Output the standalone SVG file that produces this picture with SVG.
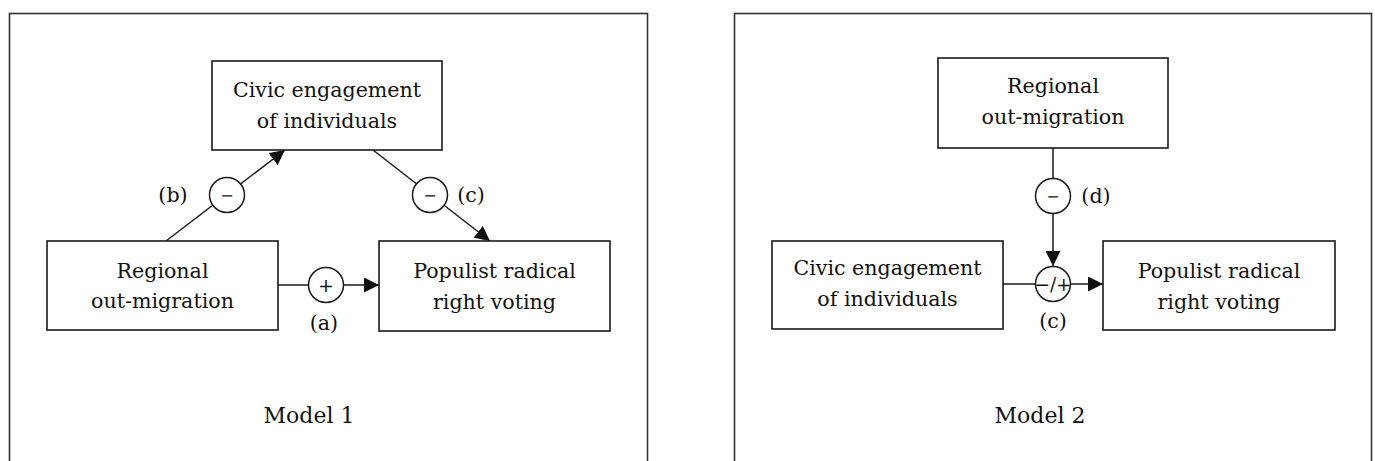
<svg xmlns="http://www.w3.org/2000/svg" width="1375" height="461" viewBox="0 0 1375 461">
<style>
.frame{fill:none;stroke:#333;stroke-width:1.6}
.box{fill:#fff;stroke:#1a1a1a;stroke-width:1.6}
.t{font-family:"DejaVu Serif","Liberation Serif",serif;font-size:20.6px;fill:#111;text-anchor:middle}
.title{font-size:22px}
.sign{font-family:"DejaVu Serif","Liberation Serif",serif;font-size:16px;fill:#111;text-anchor:middle}
.plus{font-size:19px}
.mix{font-size:18.5px}
.conn{fill:none;stroke:#1a1a1a;stroke-width:1.5}
.node{fill:#fff;stroke:#1a1a1a;stroke-width:1.5}
</style>
<defs>
<marker id="arr" markerUnits="userSpaceOnUse" markerWidth="16" markerHeight="15" refX="15" refY="7.5" orient="auto">
<path d="M0,0 L15,7.5 L0,15 Z" fill="#111"/>
</marker>
</defs>
<rect width="1375" height="461" fill="#fff"/>
<g id="frames">
<rect class="frame" x="9.5" y="13.5" width="638" height="470"/>
<rect class="frame" x="734.5" y="13.5" width="637" height="470"/>
</g>
<g id="connectors">
<line class="conn" x1="166" y1="241" x2="285" y2="150" marker-end="url(#arr)"/>
<line class="conn" x1="373" y1="150" x2="490" y2="241" marker-end="url(#arr)"/>
<line class="conn" x1="278" y1="285" x2="379" y2="285" marker-end="url(#arr)"/>
<line class="conn" x1="1053" y1="148" x2="1053" y2="266" marker-end="url(#arr)"/>
<line class="conn" x1="1003" y1="284" x2="1103" y2="284" marker-end="url(#arr)"/>
<circle class="node" cx="227" cy="195" r="17.5"/>
<text class="sign" x="227" y="200.5">−</text>
<circle class="node" cx="430" cy="195" r="17.5"/>
<text class="sign" x="430" y="200.5">−</text>
<circle class="node" cx="326" cy="285" r="17.5"/>
<text class="sign plus" x="326" y="291.5">+</text>
<circle class="node" cx="1053" cy="196" r="17.5"/>
<text class="sign" x="1053" y="201.5">−</text>
<circle class="node" cx="1053" cy="284" r="17.5"/>
<text class="sign mix" x="1053" y="291">−/+</text>
<text class="t" x="173" y="202">(b)</text>
<text class="t" x="471" y="202">(c)</text>
<text class="t" x="324" y="330">(a)</text>
<text class="t" x="1096" y="203">(d)</text>
<text class="t" x="1053" y="328">(c)</text>
</g>
<g id="m1-civic">
<rect class="box" x="212" y="61" width="230" height="89"/>
<text class="t" x="327" y="97">Civic engagement</text>
<text class="t" x="327" y="128">of individuals</text>
</g>
<g id="m1-regional">
<rect class="box" x="47" y="241" width="231" height="89"/>
<text class="t" x="162.5" y="278">Regional</text>
<text class="t" x="162.5" y="308">out-migration</text>
</g>
<g id="m1-populist">
<rect class="box" x="379" y="241" width="231" height="90"/>
<text class="t" x="494.5" y="278">Populist radical</text>
<text class="t" x="494.5" y="309">right voting</text>
</g>
<g id="m1-title">
<text class="t title" x="309" y="423">Model 1</text>
</g>
<g id="m2-regional">
<rect class="box" x="938" y="58" width="230" height="90"/>
<text class="t" x="1053" y="93">Regional</text>
<text class="t" x="1053" y="124">out-migration</text>
</g>
<g id="m2-civic">
<rect class="box" x="772" y="241" width="231" height="88"/>
<text class="t" x="887.5" y="275">Civic engagement</text>
<text class="t" x="887.5" y="306">of individuals</text>
</g>
<g id="m2-populist">
<rect class="box" x="1103" y="241" width="232" height="89"/>
<text class="t" x="1219" y="278">Populist radical</text>
<text class="t" x="1219" y="309">right voting</text>
</g>
<g id="m2-title">
<text class="t title" x="1040" y="423">Model 2</text>
</g>
</svg>
